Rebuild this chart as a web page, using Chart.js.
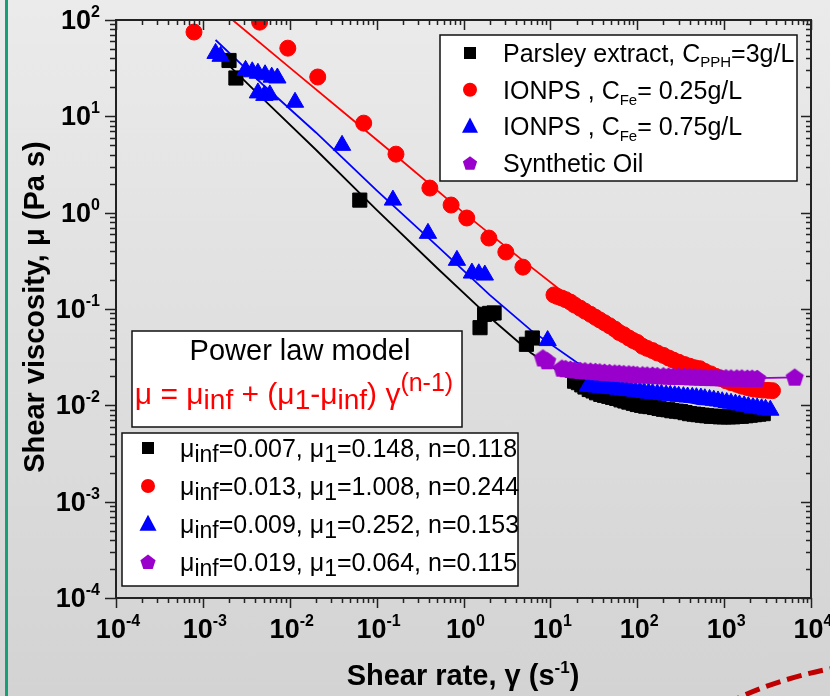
<!DOCTYPE html>
<html lang="en">

<head>
  <meta charset="UTF-8">
  <title>Shear viscosity</title>
  <style>
    body {
      margin: 0;
      width: 830px;
      height: 696px;
      overflow: hidden;
      background: linear-gradient(#ebebeb, #d3d3d3);
    }

    canvas {
      display: block;
    }
  </style>
</head>

<body>
  <canvas id="myChart" width="830" height="696"></canvas>

  <script src="https://cdn.jsdelivr.net/npm/chart.js"></script>

  <script>
    /* data */
    const parsleyX = [0.002, 0.0024, 0.064, 1.55, 1.75, 2.0, 2.25, 5.3, 6.2,
      19, 21, 23, 25, 28, 31, 34, 38, 42, 47, 52, 58, 65, 72, 80, 90, 100, 112, 125, 140,
      158, 178, 200, 225, 250, 282, 316, 355, 400, 450, 500, 560, 630, 710, 800, 900, 1000, 1120, 1260, 1410,
      1580, 1780, 2000, 2240, 2510, 2820]
    const parsleyY = [38, 25, 1.35, 0.064, 0.088, 0.09, 0.091, 0.043, 0.05,
      0.0178, 0.0172, 0.0163, 0.0155, 0.0146, 0.0141, 0.0135, 0.0130, 0.0127, 0.0124, 0.0121, 0.0118, 0.0114, 0.0111, 0.0108, 0.0105, 0.0102, 0.0100, 0.0098, 0.0097,
      0.0095, 0.0093, 0.0091, 0.0090, 0.0088, 0.0087, 0.0086, 0.0084, 0.0082, 0.0081, 0.0080, 0.0079, 0.0078, 0.0077, 0.0077, 0.0076, 0.0076, 0.0076, 0.0076, 0.0077,
      0.0077, 0.0078, 0.0079, 0.0080, 0.0081, 0.0082]

    const ion25X = [0.00079, 0.0045, 0.0095, 0.021, 0.071, 0.167, 0.41, 0.72, 1.09, 1.96, 3.07, 4.83,
      11, 12, 13.5, 15, 17, 19, 22, 25, 29, 33, 37, 42, 48, 55, 62, 70, 80, 90, 100, 115,
      130, 150, 170, 200, 230, 260, 300, 350, 400, 460, 525, 600, 700, 800, 920, 1050, 1200, 1400, 1600, 1850,
      2100, 2450, 2800, 3200, 3600]
    const ion25Y = [75, 95, 51, 25.6, 8.5, 4.05, 1.8, 1.2, 0.88, 0.545, 0.39, 0.272,
      0.14, 0.135, 0.13, 0.125, 0.118, 0.11, 0.102, 0.095, 0.088, 0.082, 0.077, 0.072, 0.067, 0.062, 0.057, 0.054, 0.050, 0.047, 0.045, 0.041,
      0.039, 0.037, 0.035, 0.033, 0.031, 0.0295, 0.028, 0.0265, 0.0255, 0.0245, 0.024, 0.0225, 0.0212, 0.020, 0.019, 0.018, 0.0172, 0.0165, 0.0158, 0.0153,
      0.0149, 0.0146, 0.0144, 0.0143, 0.0142]

    const ion75X = [0.0014, 0.0016, 0.0031, 0.0037, 0.0043, 0.0052, 0.0062, 0.0072, 0.0043, 0.0051, 0.0059, 0.0115,
      0.04, 0.154, 0.39, 0.84, 1.25, 1.5, 1.76, 9.3,
      27, 30, 34, 38, 43, 48, 54, 60, 68, 76, 85, 95, 107, 120, 135, 150, 170, 190, 215, 240,
      270, 300, 340, 380, 430, 480, 540, 600, 680, 760, 850, 950, 1070, 1200, 1350, 1500, 1700, 1900, 2150, 2400,
      2700, 3000, 3400]
    const ion75Y = [45, 42, 30, 29, 28, 27, 25.5, 25, 17.5, 16.5, 16.7, 14,
      5.0, 1.35, 0.61, 0.32, 0.236, 0.232, 0.225, 0.047,
      0.0158, 0.0157, 0.0155, 0.0154, 0.0152, 0.0150, 0.0149, 0.0147, 0.0145, 0.0143, 0.0142, 0.0140, 0.0138, 0.0136, 0.0134, 0.0133, 0.0131, 0.0130, 0.0128, 0.0127,
      0.0126, 0.0124, 0.0123, 0.0122, 0.0121, 0.0120, 0.0119, 0.0117, 0.0115, 0.0113, 0.0111, 0.0109, 0.0107, 0.0105, 0.0103, 0.0101, 0.0099, 0.0097, 0.0095, 0.0094,
      0.0092, 0.0091, 0.0089]

    const oilX = [8.2, 9.2, 13.6, 15, 17, 19, 22, 25, 29, 33, 37, 42, 48,
      55, 62, 70, 80, 90, 100, 115, 130, 150, 170, 200, 230, 260, 300, 350, 400, 460, 525, 600, 700,
      800, 920, 1050, 1200, 1400, 1600, 1850, 2100, 2400, 6500]
    const oilY = [0.031, 0.029, 0.0243, 0.024, 0.0236, 0.0233, 0.023, 0.0228, 0.0226, 0.0224, 0.0222, 0.022, 0.0218,
      0.0216, 0.0215, 0.0213, 0.0212, 0.021, 0.0208, 0.0207, 0.0206, 0.0205, 0.0203, 0.0202, 0.0201, 0.020, 0.020, 0.0199, 0.0198, 0.0197, 0.0196, 0.0195, 0.0194,
      0.0194, 0.0193, 0.0193, 0.0192, 0.0192, 0.0192, 0.0191, 0.0191, 0.019, 0.0196]

    // power law fit curves
    const parsleyFitX = [0.0018, 0.005, 0.02, 0.1, 0.5, 2, 6, 20, 100, 500, 3000]
    const parsleyFitY = [37, 15, 4.5, 1.07, 0.265, 0.082, 0.035, 0.017, 0.0095, 0.0076, 0.0071]
    const ion25FitX = [0.0022, 0.01, 0.05, 0.2, 1, 5, 20, 100, 500, 3600]
    const ion25FitY = [100, 32, 9.6, 3.4, 1.0, 0.31, 0.116, 0.044, 0.023, 0.015]
    const ion75FitX = [0.0014, 0.005, 0.02, 0.1, 0.5, 2, 6, 20, 100, 500, 3500]
    const ion75FitY = [62, 21, 6.8, 1.7, 0.45, 0.14, 0.06, 0.028, 0.014, 0.0103, 0.0092]
    const oilFitX = [8, 20, 100, 500, 2500, 6500]
    const oilFitY = [0.026, 0.0232, 0.0205, 0.0196, 0.0192, 0.0195]

    const xTickExp = [-4, -3, -2, -1, 0, 1, 2, 3, 4]
    const yTickExp = [-4, -3, -2, -1, 0, 1, 2]

    const BLACK = '#000000', RED = '#ff0000', BLUE = '#0000ff', PURPLE = '#9900cc'
    const FONT = '"Liberation Sans", Arial, sans-serif'

    const pts = (xs, ys) => xs.map((x, i) => ({ x: x, y: ys[i] }))

    function pentagon(r, color) {
      const c = document.createElement('canvas')
      c.width = c.height = Math.ceil(2 * r + 2)
      const g = c.getContext('2d')
      g.fillStyle = color
      g.beginPath()
      for (let i = 0; i < 5; i++) {
        const a = -Math.PI / 2 + i * 2 * Math.PI / 5
        g.lineTo(c.width / 2 + r * Math.cos(a), c.height / 2 + r * Math.sin(a) + 0.8)
      }
      g.closePath()
      g.fill()
      return c
    }

    function marker(ctx, style, x, y, s, color) {
      ctx.fillStyle = color
      ctx.beginPath()
      if (style === 'rect') {
        ctx.rect(x - s / 2, y - s / 2, s, s)
      } else if (style === 'circle') {
        ctx.arc(x, y, s / 2, 0, Math.PI * 2)
      } else if (style === 'triangle') {
        ctx.moveTo(x, y - s * 0.55)
        ctx.lineTo(x + s / 2, y + s * 0.4)
        ctx.lineTo(x - s / 2, y + s * 0.4)
      } else {
        for (let i = 0; i < 5; i++) {
          const a = -Math.PI / 2 + i * 2 * Math.PI / 5
          ctx.lineTo(x + s / 2 * Math.cos(a), y + s / 2 * Math.sin(a) + 0.6)
        }
      }
      ctx.closePath()
      ctx.fill()
    }

    // draws a row of text pieces: [text, size, dy, bold]
    function rich(ctx, x, y, parts, align, color) {
      let w = 0
      parts.forEach(p => {
        ctx.font = (p[3] ? 'bold ' : '') + p[1] + 'px ' + FONT
        w += ctx.measureText(p[0]).width
      })
      let cx = align === 'center' ? x - w / 2 : align === 'right' ? x - w : x
      ctx.fillStyle = color || '#000'
      ctx.textAlign = 'left'
      ctx.textBaseline = 'alphabetic'
      parts.forEach(p => {
        ctx.font = (p[3] ? 'bold ' : '') + p[1] + 'px ' + FONT
        ctx.fillText(p[0], cx, y + (p[2] || 0))
        cx += ctx.measureText(p[0]).width
      })
    }

    function box(ctx, x, y, w, h) {
      ctx.fillStyle = '#ffffff'
      ctx.fillRect(x, y, w, h)
      ctx.strokeStyle = '#111'
      ctx.lineWidth = 1.5
      ctx.strokeRect(x, y, w, h)
    }

    const decor = {
      id: 'decor',
      beforeDraw(chart) {
        const ctx = chart.ctx
        ctx.save()
        ctx.fillStyle = '#16a077'
        ctx.fillRect(5, 0, 3, 696)
        ctx.restore()
      },
      afterDraw(chart) {
        const ctx = chart.ctx
        const a = chart.chartArea
        const xs = chart.scales.x, ys = chart.scales.y
        ctx.save()

        // ticks
        ctx.strokeStyle = '#222'
        ctx.lineWidth = 1.5
        ctx.beginPath()
        for (let e = -4; e <= 4; e++) {
          for (let m = 1; m <= 9; m++) {
            if (e === 4 && m > 1) break
            const px = Math.round(xs.getPixelForValue(m * Math.pow(10, e))) + 0.5
            const len = m === 1 ? 10 : 5
            ctx.moveTo(px, a.bottom); ctx.lineTo(px, a.bottom + len)
            ctx.moveTo(px, a.top); ctx.lineTo(px, a.top + len)
          }
        }
        for (let e = -4; e <= 2; e++) {
          for (let m = 1; m <= 9; m++) {
            if (e === 2 && m > 1) break
            const py = Math.round(ys.getPixelForValue(m * Math.pow(10, e))) + 0.5
            const len = m === 1 ? 11 : 6
            ctx.moveTo(a.left, py); ctx.lineTo(a.left - len, py)
            ctx.moveTo(a.right, py); ctx.lineTo(a.right - len + 1, py)
          }
        }
        ctx.stroke()
        ctx.lineWidth = 2
        ctx.strokeRect(a.left, a.top, a.right - a.left, a.bottom - a.top)

        // tick labels
        xTickExp.forEach(e => {
          rich(ctx, xs.getPixelForValue(Math.pow(10, e)) + 2, 638,
            [['10', 27, 0, true], [String(e), 16, -12, true]], 'center')
        })
        yTickExp.forEach(e => {
          rich(ctx, 100, ys.getPixelForValue(Math.pow(10, e)) + 9,
            [['10', 27, 0, true], [String(e), 16, -12, true]], 'right')
        })

        // axis titles
        rich(ctx, 463, 685, [['Shear rate, \u03b3 (s', 29, 0, true], ['-1', 17, -12, true], [')', 29, 0, true]], 'center')
        ctx.save()
        ctx.translate(44, 307)
        ctx.rotate(-Math.PI / 2)
        rich(ctx, 0, 0, [['Shear viscosity, \u03bc (Pa s)', 29, 0, true]], 'center')
        ctx.restore()

        // series legend
        box(ctx, 440, 35, 357, 146)
        const leg1 = [
          ['rect', BLACK, 12, [['Parsley extract, C', 25], ['PPH', 15, 5], ['=3g/L', 25]]],
          ['circle', RED, 14, [['IONPS , C', 25], ['Fe', 15, 6], ['= 0.25g/L', 25]]],
          ['triangle', BLUE, 16, [['IONPS , C', 25], ['Fe', 15, 6], ['= 0.75g/L', 25]]],
          ['pentagon', PURPLE, 15, [['Synthetic Oil', 25]]]
        ]
        leg1.forEach((r, i) => {
          const by = 62 + i * 36.7
          marker(ctx, r[0], 470, by - 9, r[2], r[1])
          rich(ctx, 503, by, r[3], 'left')
        })

        // model box
        box(ctx, 132, 331, 330, 96)
        rich(ctx, 300, 360, [['Power law model', 29]], 'center')
        rich(ctx, 294, 404, [['\u03bc = \u03bc', 30], ['inf', 28, 5], [' + (\u03bc', 30], ['1', 28, 5],
          ['-\u03bc', 30], ['inf', 28, 5], [') \u03b3', 30], ['(n-1)', 25, -13]], 'center', RED)

        // parameter legend
        box(ctx, 122, 433, 396, 153)
        const leg2 = [
          ['rect', BLACK, 12, '0.007', '0.148', '0.118'],
          ['circle', RED, 14, '0.013', '1.008', '0.244'],
          ['triangle', BLUE, 17, '0.009', '0.252', '0.153'],
          ['pentagon', PURPLE, 16, '0.019', '0.064', '0.115']
        ]
        leg2.forEach((r, i) => {
          const by = 457 + i * 38
          marker(ctx, r[0], 148, by - 9, r[2], r[1])
          rich(ctx, 180, by, [['\u03bc', 25], ['inf', 23, 5], ['=' + r[3] + ', \u03bc', 25], ['1', 23, 5],
            ['=' + r[4] + ', n=' + r[5], 25]], 'left')
        })

        // red dashed stroke at the corner
        ctx.strokeStyle = '#c00000'
        ctx.lineWidth = 5
        ctx.setLineDash([15, 7])
        ctx.beginPath()
        ctx.moveTo(726, 704)
        ctx.quadraticCurveTo(772, 680, 834, 668)
        ctx.stroke()
        ctx.restore()
      }
    }

    const ctx = document.getElementById('myChart')
    new Chart(ctx, {
      type: 'scatter',
      data: {
        datasets: [
          { label: 'Synthetic Oil', data: pts(oilX, oilY), pointStyle: pentagon(9.5, PURPLE), pointRadius: 9, order: 0 },
          { label: 'IONPS 0.25', data: pts(ion25X, ion25Y), pointStyle: 'circle', pointRadius: 8, backgroundColor: RED, borderColor: RED, order: 1 },
          { label: 'IONPS 0.75', data: pts(ion75X, ion75Y), pointStyle: 'triangle', pointRadius: 10, backgroundColor: BLUE, borderColor: BLUE, order: 2 },
          { label: 'Parsley', data: pts(parsleyX, parsleyY), pointStyle: 'rect', pointRadius: 10, backgroundColor: BLACK, borderColor: BLACK, order: 3 },
          { data: pts(oilFitX, oilFitY), showLine: true, pointRadius: 0, borderColor: PURPLE, borderWidth: 1.8, order: 4 },
          { data: pts(ion25FitX, ion25FitY), showLine: true, pointRadius: 0, borderColor: RED, borderWidth: 1.8, order: 5 },
          { data: pts(ion75FitX, ion75FitY), showLine: true, pointRadius: 0, borderColor: BLUE, borderWidth: 1.8, order: 6 },
          { data: pts(parsleyFitX, parsleyFitY), showLine: true, pointRadius: 0, borderColor: BLACK, borderWidth: 1.8, order: 7 }
        ]
      },
      options: {
        responsive: false,
        animation: false,
        layout: { padding: { left: 116, right: 19, top: 20, bottom: 98 } },
        scales: {
          x: { type: 'logarithmic', min: 1e-4, max: 1e4, display: false },
          y: { type: 'logarithmic', min: 1e-4, max: 1e2, display: false }
        },
        plugins: {
          legend: { display: false },
          tooltip: { enabled: false }
        }
      },
      plugins: [decor]
    });
  </script>
</body>

</html>
